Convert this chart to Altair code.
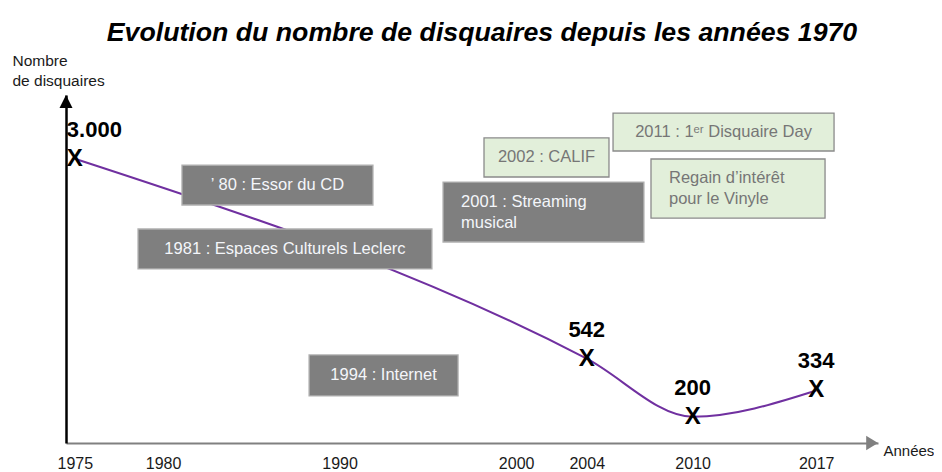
import altair as alt
import pandas as pd

# ---- data -------------------------------------------------------------
years = [1975, 2004, 2010, 2017]
counts = [3000, 542, 200, 334]
count_labels = ["3.000", "542", "200", "334"]
tick_years = [1975, 1980, 1990, 2000, 2004, 2010, 2017]

ann_text = [
    "\u2019 80 : Essor du CD",
    "1981 : Espaces Culturels Leclerc",
    "1994 : Internet",
    "2001 : Streaming\nmusical",
    "2002 : CALIF",
    "2011 : 1\u1d49\u02b3 Disquaire Day",
    "Regain d\u2019int\u00e9r\u00eat\npour le Vinyle",
]
ann_kind = ["déclin", "déclin", "déclin", "déclin", "renouveau", "renouveau", "renouveau"]
# annotation anchors in data units (years / number of shops)
ann_year0 = [1981.07, 1978.58, 1988.27, 1995.86, 1998.18, 2005.49, 2007.64]
ann_year1 = [1991.89, 1995.23, 1996.71, 2007.24, 2005.26, 2018.01, 2017.50]
ann_top = [2890, 1910, 570, 2610, 3370, 3840, 2995]
ann_bottom = [2255, 1400, 303, 1735, 2693, 3135, 2064]

X_MIN, X_MAX = 1974.5, 2020.5
Y_MIN, Y_MAX = 100, 4200

FONT = "Liberation Sans"

pts = pd.DataFrame({"year": years, "count": counts, "label": count_labels})
ann = pd.DataFrame({"text": ann_text, "kind": ann_kind, "x0": ann_year0,
                    "x1": ann_year1, "top": ann_top, "bottom": ann_bottom})
arrow_x = pd.DataFrame({"year": [X_MAX], "count": [Y_MIN]})
arrow_y = pd.DataFrame({"year": [X_MIN], "count": [Y_MAX]})

xs = alt.Scale(domain=[X_MIN, X_MAX], nice=False, zero=False)
ys = alt.Scale(type="sqrt", domain=[Y_MIN, Y_MAX], nice=False, zero=False)

x_axis = alt.Axis(values=tick_years, format="d", grid=False, ticks=False,
                  domainColor="#808080", domainWidth=2,
                  labelFont=FONT, labelFontSize=16, labelColor="#1a1a1a",
                  labelPadding=12, labelFlush=False, labelOverlap=False,
                  title="Années", titleFont=FONT, titleFontSize=15,
                  titleFontWeight="normal", titleColor="#1a1a1a",
                  titleAlign="left", titleBaseline="middle",
                  titleX=817, titleY=7)
y_axis = alt.Axis(labels=False, ticks=False, grid=False,
                  domainColor="black", domainWidth=2.5,
                  title=["Nombre", "de disquaires"], titleAngle=0,
                  titleFont=FONT, titleFontSize=15.5, titleFontWeight="normal",
                  titleColor="#1a1a1a", titleAlign="left", titleBaseline="top",
                  titleLineHeight=20, titleX=-54, titleY=-42)

X = lambda f: alt.X(f, scale=xs, axis=x_axis)
Y = lambda f: alt.Y(f, scale=ys, axis=y_axis)

is_dark = "datum.kind == 'déclin'"

line = alt.Chart(pts).mark_line(color="#7030A0", strokeWidth=2,
                                interpolate="monotone").encode(
    x=X("year:Q"), y=Y("count:Q"))

boxes = alt.Chart(ann).mark_rect(strokeWidth=1.3).encode(
    x=X("x0:Q"), x2="x1:Q", y=Y("top:Q"), y2="bottom:Q",
    fill=alt.condition(is_dark, alt.value("#7f7f7f"), alt.value("#e2efda")),
    stroke=alt.condition(is_dark, alt.value("#b0b0b0"), alt.value("#8a8a8a")),
)

ann_base = alt.Chart(ann).transform_calculate(
    xmid="(datum.x0 + datum.x1) / 2",
    ymid="pow((sqrt(datum.top) + sqrt(datum.bottom)) / 2, 2)",
)
txt_color = alt.condition(is_dark, alt.value("#f4f6fa"), alt.value("#767676"))

ann_center = ann_base.transform_filter("indexof(datum.text, '\\n') < 0").mark_text(
    font=FONT, fontSize=16.5, align="center", baseline="middle").encode(
    x=X("xmid:Q"), y=Y("ymid:Q"), text="text:N", color=txt_color)

ann_left = ann_base.transform_filter("indexof(datum.text, '\\n') >= 0").transform_calculate(
    lines="split(datum.text, '\\n')").mark_text(
    font=FONT, fontSize=16.5, align="left", baseline="middle", dx=18, dy=-10.5,
    lineHeight=21).encode(
    x=X("x0:Q"), y=Y("ymid:Q"), text="lines:N", color=txt_color)

markers = alt.Chart(pts).mark_text(text="X", font=FONT, fontSize=24,
                                   fontWeight="bold", color="black",
                                   baseline="middle").encode(
    x=X("year:Q"), y=Y("count:Q"))

labels_first = alt.Chart(pts).transform_filter("datum.year == 1975").mark_text(
    font=FONT, fontSize=22, fontWeight="bold", color="black",
    align="left", baseline="middle", dx=-8, dy=-29).encode(
    x=X("year:Q"), y=Y("count:Q"), text="label:N")

labels_rest = alt.Chart(pts).transform_filter("datum.year != 1975").mark_text(
    font=FONT, fontSize=22, fontWeight="bold", color="black",
    align="center", baseline="middle", dy=-29).encode(
    x=X("year:Q"), y=Y("count:Q"), text="label:N")

head_x = alt.Chart(arrow_x).mark_point(
    shape="M0,0L-1,-0.62L-1,0.62Z", size=560, filled=True, opacity=1,
    color="#808080").encode(x=X("year:Q"), y=Y("count:Q"))
head_y = alt.Chart(arrow_y).mark_point(
    shape="M0,0L-0.5,1L0.5,1Z", size=676, filled=True, opacity=1,
    color="black").encode(x=X("year:Q"), y=Y("count:Q"))

chart = alt.layer(
    line, boxes, ann_center, ann_left, markers, labels_first, labels_rest,
    head_x, head_y,
).properties(
    width=812, height=348,
    background="white",
    autosize=alt.AutoSizeParams(type="none"),
    padding={"left": 58, "top": 87, "right": 56, "bottom": 29},
    title=alt.TitleParams(
        text="Evolution du nombre de disquaires depuis les années 1970",
        font=FONT, fontSize=26.7, fontWeight="bold", fontStyle="italic",
        color="black", anchor="middle", frame="group", dx=10, dy=-2),
).configure_view(stroke=None)

chart.save("out.html", embed_options={"renderer": "svg", "actions": False})
